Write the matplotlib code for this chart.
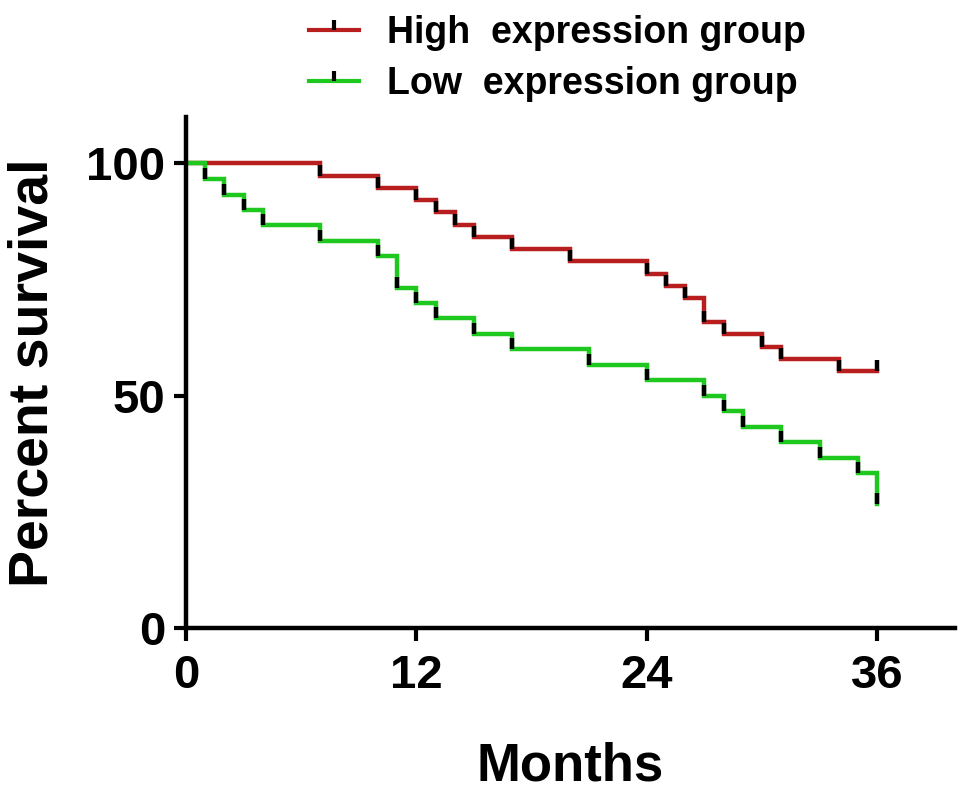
import matplotlib.pyplot as plt
from matplotlib.path import Path
from matplotlib.lines import Line2D

plt.rcParams['font.family'] = ['Liberation Sans', 'DejaVu Sans']
plt.rcParams['font.weight'] = 'bold'

# Kaplan-Meier steps (months, percent survival)
high_t = [0, 7, 10, 12, 13, 14, 15, 17, 20, 24, 25, 26, 27, 28, 30, 31, 34, 36]
high_s = [100, 97.4, 94.7, 92.1, 89.5, 86.8, 84.2, 81.6, 78.9, 76.3, 73.7, 71.1,
          65.8, 63.2, 60.5, 57.9, 55.3, 55.3]

low_t = [0, 1, 2, 3, 4, 7, 10, 11, 12, 13, 15, 17, 21, 24, 27, 28, 29, 31, 33, 35, 36]
low_s = [100, 96.7, 93.3, 90.0, 86.7, 83.3, 80.0, 73.3, 70.0, 66.7, 63.3, 60.0,
         56.7, 53.3, 50.0, 46.7, 43.3, 40.0, 36.7, 33.3, 26.7]

labels = ['High  expression group', 'Low  expression group']
colors = ['#B81E1E', '#1FC81F']
x_ticks = [0, 12, 24, 36]
y_ticks = [0, 50, 100]

# tick mark that goes upward from the point
up_tick = Path([(0, 0), (0, 1)], [Path.MOVETO, Path.LINETO])

fig = plt.figure(figsize=(9.69, 7.96), dpi=100)
ax = fig.add_axes([0.192, 0.211, 0.7935, 0.642])

for t, s, c in [(high_t, high_s, colors[0]), (low_t, low_s, colors[1])]:
    ax.step(t, s, where='post', color=c, lw=3.2, solid_joinstyle='miter', zorder=2)
    ax.plot(t[1:], s[1:], ls='none', marker=up_tick, markersize=16,
            markeredgewidth=3.2, color='black', zorder=3)

ax.set_xlim(0, 40.05)
ax.set_ylim(0, 110)
ax.set_xticks(x_ticks)
ax.set_yticks(y_ticks)
ax.spines['top'].set_visible(False)
ax.spines['right'].set_visible(False)
for sp in ['left', 'bottom']:
    ax.spines[sp].set_linewidth(3.2)
ax.tick_params(axis='both', direction='out', length=9, width=3.0,
               labelsize=34)
ax.tick_params(axis='x', pad=10)
ax.tick_params(axis='y', pad=6)
for lab in ax.get_xticklabels() + ax.get_yticklabels():
    lab.set_fontweight('bold')

ax.set_xlabel('Months', fontsize=38, fontweight='bold', labelpad=31)
ax.set_ylabel('Percent survival', fontsize=40, fontweight='bold', labelpad=19)

handles = [Line2D([0], [0], color=c, lw=3.0, marker=up_tick, markersize=14,
                  markeredgewidth=3.0, markeredgecolor='black') for c in colors]
fig.legend(handles, labels, loc='upper left', bbox_to_anchor=(0.284, 1.024),
           frameon=False, prop={'weight': 'bold', 'size': 27},
           handlelength=1.33, handletextpad=0.75, labelspacing=0.4)

fig.savefig('out.png', dpi=100)
